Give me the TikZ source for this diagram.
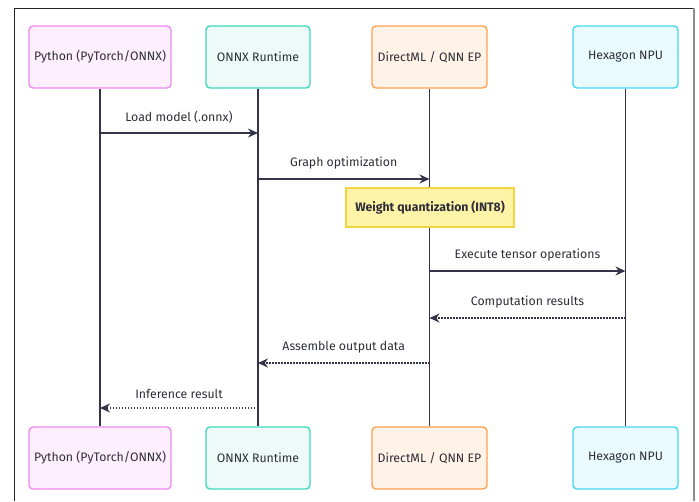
\documentclass[tikz,border=0pt]{standalone}
\usepackage{fontspec}
\setmainfont{Fira Sans}
\usetikzlibrary{arrows.meta}
\usetikzlibrary{positioning}
\definecolor{mline}{HTML}{33334A}
\definecolor{mtext}{HTML}{2E2E38}
\definecolor{mpink}{HTML}{F08AF0}
\definecolor{mpinkbg}{HTML}{FDEFFD}
\definecolor{mteal}{HTML}{3FD9BF}
\definecolor{mtealbg}{HTML}{EDFAF7}
\definecolor{morange}{HTML}{FFA050}
\definecolor{morangebg}{HTML}{FFF2E6}
\definecolor{mcyan}{HTML}{45D7F2}
\definecolor{mcyanbg}{HTML}{E9FBFE}
\definecolor{myellow}{HTML}{F5D340}
\definecolor{myellowbg}{HTML}{FFF3A8}
\tikzset{actor/.style = {draw, rounded corners=4pt, line width=1.4pt,
                         minimum height=62pt, text=mtext,
                         font=\fontsize{12.3}{14}\selectfont}}
\tikzset{life/.style = {draw=mline, line width=1.4pt}}
\tikzset{msg/.style = {draw=mline, line width=1.4pt,
                       -{Stealth[length=10pt,width=9pt]}}}
\tikzset{reply/.style = {msg, dash pattern=on 1.5pt off 1.5pt}}
\tikzset{lbl/.style = {midway, above=9pt, text=mtext, inner sep=0pt,
                       font=\fontsize{12.3}{14}\selectfont}}

\begin{document}
\begin{tikzpicture}[x=1pt, y=-1pt]
      \useasboundingbox (0,0) rectangle (699,501);
      \draw[black!85, line width=1pt] (14,501) -- (14,8) -- (694,8);
      \draw[black!45, line width=1.6pt] (694,8) -- (694,501);
      % participants
      \node[actor, draw=mpink, fill=mpinkbg, minimum width=142pt] (pyT) at (100,57) {Python (PyTorch/ONNX)};
      \node[actor, draw=mteal, fill=mtealbg, minimum width=104pt] (rtT) at (258,57) {ONNX Runtime};
      \node[actor, draw=morange, fill=morangebg, minimum width=115pt] (dmT) at (429.5,57) {DirectML / QNN EP};
      \node[actor, draw=mcyan, fill=mcyanbg, minimum width=105pt] (hxT) at (625.5,57) {Hexagon NPU};
      \node[actor, draw=mpink, fill=mpinkbg, minimum width=142pt] (pyB) at (100,458) {Python (PyTorch/ONNX)};
      \node[actor, draw=mteal, fill=mtealbg, minimum width=104pt] (rtB) at (258,458) {ONNX Runtime};
      \node[actor, draw=morange, fill=morangebg, minimum width=115pt] (dmB) at (429.5,458) {DirectML / QNN EP};
      \node[actor, draw=mcyan, fill=mcyanbg, minimum width=105pt] (hxB) at (625.5,458) {Hexagon NPU};
      % lifelines
      \draw[life] (pyT) -- (pyB);
      \draw[life] (rtT) -- (rtB);
      \draw[life] (dmT) -- (dmB);
      \draw[life] (hxT) -- (hxB);
      % message rows
      \coordinate (m1) at (0,133);
      \coordinate (m2) at (0,179);
      \coordinate (m3) at (0,271);
      \coordinate (m4) at (0,318);
      \coordinate (m5) at (0,363);
      \coordinate (m6) at (0,408);
      \draw[msg] (pyT |- m1) -- node[lbl] {Load model (.onnx)} (rtT |- m1);
      \draw[msg] (rtT |- m2) -- node[lbl] {Graph optimization} (dmT |- m2);
      \node[draw=myellow, fill=myellowbg, line width=1.4pt, minimum width=168pt,
            minimum height=39pt, text=mtext, font=\fontsize{12.3}{14}\selectfont\bfseries]
            (quant) at (430,207.5) {Weight quantization (INT8)};
      \draw[msg] (dmT |- m3) -- node[lbl] {Execute tensor operations} (hxT |- m3);
      \draw[reply] (hxT |- m4) -- node[lbl] {Computation results} (dmT |- m4);
      \draw[reply] (dmT |- m5) -- node[lbl] {Assemble output data} (rtT |- m5);
      \draw[reply] (rtT |- m6) -- node[lbl] {Inference result} (pyT |- m6);
    \end{tikzpicture}
\end{document}
